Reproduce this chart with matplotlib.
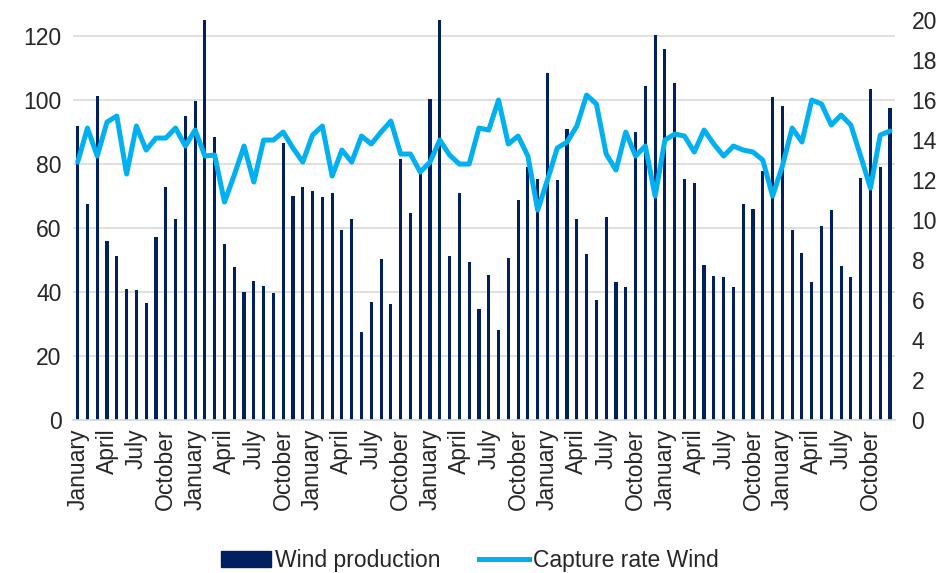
import numpy as np
import matplotlib.pyplot as plt
from matplotlib.patches import Patch
from matplotlib.lines import Line2D

plt.rcParams['font.family'] = ['Liberation Sans', 'DejaVu Sans']

# monthly wind production (left axis) over seven years
production = [
    91.9, 67.5, 101.3, 56.0, 51.2, 40.8, 40.5, 36.7, 57.2, 72.7, 62.8, 94.9,
    99.7, 125.0, 88.4, 55.0, 47.8, 39.9, 43.6, 41.8, 39.6, 86.7, 69.9, 72.7,
    71.7, 69.8, 71.1, 59.3, 62.9, 27.4, 37.0, 50.3, 36.4, 81.5, 64.6, 77.0,
    100.4, 125.0, 51.2, 71.1, 49.3, 34.8, 45.2, 28.2, 50.6, 68.9, 79.0, 75.3,
    108.6, 75.0, 90.8, 62.7, 52.0, 37.6, 63.4, 43.2, 41.5, 89.9, 104.4, 120.4,
    116.0, 105.2, 75.4, 74.2, 48.4, 45.0, 44.7, 41.5, 67.4, 66.1, 77.9, 101.1,
    98.1, 59.3, 52.3, 43.1, 60.7, 65.6, 48.1, 44.7, 75.5, 103.3, 79.0, 97.5,
]

# capture rate (right axis)
capture = [
    12.9, 14.6, 13.2, 14.9, 15.2, 12.3, 14.7, 13.5, 14.1, 14.1, 14.6, 13.7,
    14.5, 13.2, 13.25, 10.9, 12.25, 13.7, 11.9, 14.0, 14.0, 14.4, 13.6, 12.9,
    14.25, 14.7, 12.2, 13.5, 12.9, 14.2, 13.8, 14.4, 14.95, 13.3, 13.3, 12.4,
    12.9, 14.0, 13.25, 12.8, 12.8, 14.6, 14.5, 16.0, 13.8, 14.2, 13.2, 10.5,
    12.0, 13.6, 13.9, 14.7, 16.25, 15.8, 13.3, 12.5, 14.4, 13.2, 13.7, 11.2,
    14.0, 14.3, 14.2, 13.4, 14.5, 13.8, 13.2, 13.7, 13.5, 13.4, 13.0, 11.2,
    12.7, 14.6, 13.9, 16.0, 15.8, 14.75, 15.25, 14.75, 13.2, 11.6, 14.25, 14.45,
]

tick_months = ['January', 'April', 'July', 'October']
n_years = 7

navy = '#002060'
sky = '#00B0F0'
fs = 16.5

x = np.arange(len(production))

fig = plt.figure(figsize=(9.45, 5.73), dpi=100)
ax = fig.add_axes([0.077, 0.267, 0.870, 0.698])
ax2 = ax.twinx()

ax.bar(x, production, width=0.32, color=navy, zorder=2)
ax2.plot(x, capture, color=sky, lw=3.6, solid_joinstyle='round',
         solid_capstyle='round', zorder=3)

ax.set_xlim(-0.5, len(production) - 0.5)
ax.set_ylim(0, 125)
ax2.set_ylim(0, 20)
ax.set_yticks(np.arange(0, 121, 20))
ax2.set_yticks(np.arange(0, 21, 2))

ax.set_xticks(np.arange(0, len(production), 3))
ax.set_xticklabels(tick_months * n_years, rotation=90, va='top', ha='center')

ax.grid(axis='y', color='#D9D9D9', lw=1.2, zorder=0)
ax.set_axisbelow(True)
for a in (ax, ax2):
    for s in a.spines.values():
        s.set_visible(False)
    a.tick_params(length=0, labelsize=fs, colors='#262626')
ax.spines['bottom'].set_visible(True)
ax.spines['bottom'].set_color('#D9D9D9')
ax.spines['bottom'].set_linewidth(1.2)
ax.tick_params(axis='y', pad=8)
ax.tick_params(axis='x', pad=6)
ax2.tick_params(axis='y', pad=12)

handles = [Patch(color=navy), Line2D([0], [0], color=sky, lw=3.6)]
fig.legend(handles, ['Wind production', 'Capture rate Wind'], loc='lower center',
           bbox_to_anchor=(0.497, -0.035), ncol=2, frameon=False, fontsize=fs,
           labelcolor='#262626', handlelength=2.2, handletextpad=0.15,
           columnspacing=1.7)

fig.savefig('out.png', dpi=100)
